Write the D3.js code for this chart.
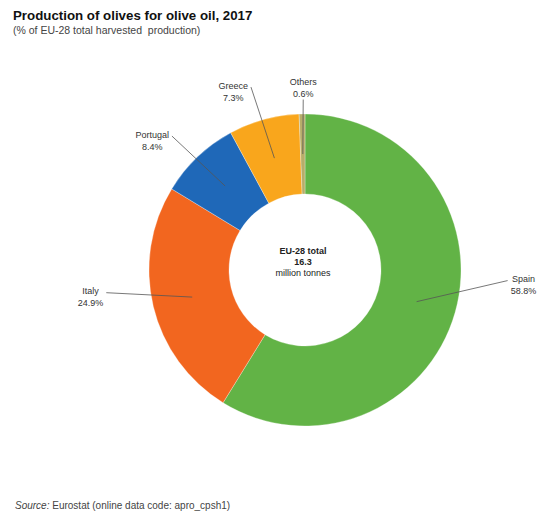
<!DOCTYPE html>
<html>
<head>
<meta charset="utf-8">
<script src="https://cdn.jsdelivr.net/npm/d3@7"></script>
<style>
  body { margin: 0; background: #fff; }
  svg { font-family: "Liberation Sans", Arial, sans-serif; }
</style>
</head>
<body>
<div id="chart"></div>
<script>
// data
const categories = ['Spain', 'Italy', 'Portugal', 'Greece', 'Others'];
const shares = [58.8, 24.9, 8.4, 7.3, 0.6];
const totalLines = ['EU-28 total', '16.3', 'million tonnes'];

const colors = ['#62b346', '#f2661f', '#1f68b8', '#f9a61c', '#b7ad6a'];

// label layout: nudge from the polar spot, and which side the leader line meets
const labelNudge = [[26, -40], [-20, -20], [-15, 15], [-19, 14], [2, 17]];
const leaderSide = ['left', 'right', 'right', 'right', 'bottom'];

const width = 539, height = 513;
const cx = 305, cy = 270;
const outerR = 156, innerR = 76, labelR = 200;

const svg = d3.select('#chart').append('svg')
    .attr('width', width)
    .attr('height', height);

// title
svg.append('text')
    .attr('x', 13).attr('y', 20)
    .attr('font-size', 13.3).attr('font-weight', 'bold').attr('fill', '#111')
    .text('Production of olives for olive oil, 2017');

svg.append('text')
    .attr('x', 13).attr('y', 34)
    .attr('font-size', 10.5).attr('fill', '#444')
    .attr('xml:space', 'preserve')
    .text('(% of EU-28 total harvested  production)');

// pie
let data = categories.map((c, i) => ({name: c, value: shares[i], color: colors[i], i: i}));

let pie = d3.pie().sort(null).value(d => d.value);
let arcs = pie(data);

let arc = d3.arc().innerRadius(innerR).outerRadius(outerR);
let midArc = d3.arc().innerRadius((innerR + outerR) / 2).outerRadius((innerR + outerR) / 2);

let g = svg.append('g').attr('transform', `translate(${cx},${cy})`);

g.selectAll('path.slice').data(arcs)
    .enter().append('path')
    .attr('class', 'slice')
    .attr('d', arc)
    .attr('fill', d => d.data.color)
    .attr('stroke', '#fff')
    .attr('stroke-width', 0.3);

// centre text
let centre = g.append('text')
    .attr('text-anchor', 'middle')
    .attr('font-size', 9)
    .attr('fill', '#222');
totalLines.forEach((t, i) => {
    centre.append('tspan')
        .attr('x', -2)
        .attr('y', -16 + i * 11)
        .attr('font-weight', i < 2 ? 'bold' : 'normal')
        .text(t);
});

// labels
let fmt = d3.format('.1f');
let leaderG = g.append('g');
let labelG = g.append('g');

arcs.forEach((d, i) => {
    let a = (d.startAngle + d.endAngle) / 2;
    let lx = Math.sin(a) * labelR + labelNudge[i][0];
    let ly = -Math.cos(a) * labelR + labelNudge[i][1];

    let t = labelG.append('text')
        .attr('text-anchor', 'middle')
        .attr('font-size', 9)
        .attr('fill', '#333');
    t.append('tspan').attr('x', lx).attr('y', ly - 2.5).text(d.data.name);
    t.append('tspan').attr('x', lx).attr('y', ly + 9.5).text(fmt(d.data.value) + '%');

    let bb = t.node().getBBox();
    let end;
    if (leaderSide[i] === 'left') end = [bb.x - 3, ly - 4];
    else if (leaderSide[i] === 'right') end = [bb.x + bb.width + 3, ly - 4];
    else end = [lx, bb.y + bb.height + 1];

    let start = midArc.centroid(d);

    leaderG.append('line')
        .attr('x1', start[0]).attr('y1', start[1])
        .attr('x2', end[0]).attr('y2', end[1])
        .attr('stroke', '#555')
        .attr('stroke-width', 0.8);
});

// source
svg.append('text')
    .attr('x', 15).attr('y', 509)
    .attr('font-size', 10).attr('fill', '#444')
    .html('<tspan font-style="italic">Source:</tspan> Eurostat (online data code: apro_cpsh1)');
</script>
</body>
</html>
